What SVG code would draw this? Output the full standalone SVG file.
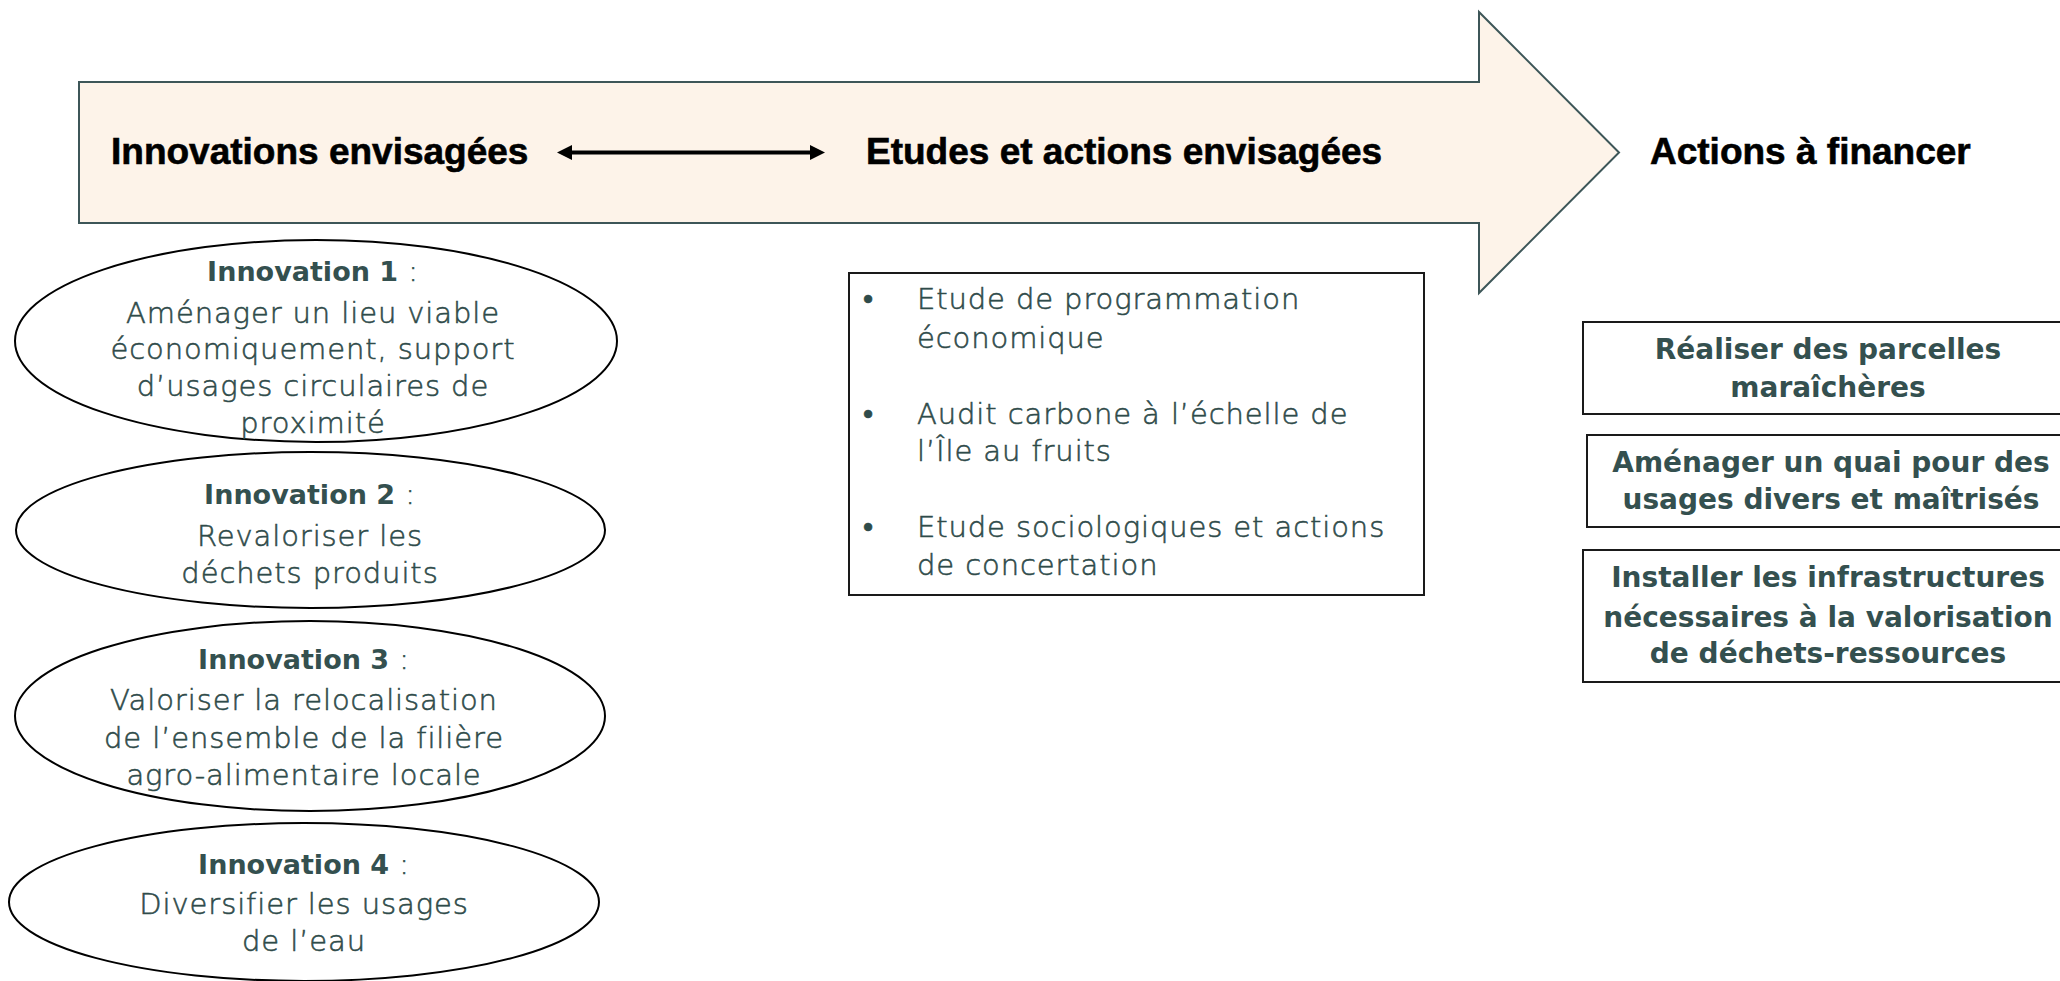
<svg xmlns="http://www.w3.org/2000/svg" width="2060" height="981" viewBox="0 0 2060 981">
<style>
.hdr{font-family:"Liberation Sans",Arial,sans-serif;font-weight:700;font-size:37px;fill:#000;stroke:#000;stroke-width:0.6px}
.ih{font-family:"DejaVu Sans",sans-serif;font-weight:700;font-size:27px;fill:#34504f;stroke:none}
.lt{font-family:"DejaVu Sans",sans-serif;font-weight:300;font-size:29px;letter-spacing:0.9px;fill:#2f4b4a;stroke:#2f4b4a;stroke-width:0.55px}
.bx{font-family:"DejaVu Sans",sans-serif;font-weight:700;font-size:28px;fill:#34504f}
.ell{fill:#fff;stroke:#000;stroke-width:2}
.box{fill:#fff;stroke:#1a1a1a;stroke-width:2}
</style>
<defs>
<marker id="ah" markerUnits="userSpaceOnUse" viewBox="0 0 15 15" refX="7" refY="7.5" markerWidth="15" markerHeight="15" orient="auto-start-reverse">
<path d="M0,0 L15,7.5 L0,15 Z" fill="#000"/>
</marker>
</defs>
<rect width="2060" height="981" fill="#fff"/>
<g id="big-arrow">
<path d="M79,82 H1479 V12 L1619,152.5 L1479,293 V223 H79 Z" fill="#fdf3e9" stroke="#3d5658" stroke-width="2"/>
<text class="hdr" x="111" y="164">Innovations envisagées</text>
<text class="hdr" x="866" y="164">Etudes et actions envisagées</text>
</g>
<g id="actions-title">
<text class="hdr" x="1650" y="164">Actions à financer</text>
</g>
<g id="connectors">
<line x1="565" y1="152.5" x2="817" y2="152.5" stroke="#000" stroke-width="4" marker-start="url(#ah)" marker-end="url(#ah)"/>
</g>
<g id="innovation-1">
<ellipse class="ell" cx="316" cy="341" rx="301" ry="101"/>
<text x="313" y="281" text-anchor="middle"><tspan class="ih">Innovation 1</tspan><tspan class="lt"> :</tspan></text>
<text class="lt" text-anchor="middle"><tspan x="313" y="323">Aménager un lieu viable</tspan><tspan x="313" y="359">économiquement, support</tspan><tspan x="313" y="396">d’usages circulaires de</tspan><tspan x="313" y="433">proximité</tspan></text>
</g>
<g id="innovation-2">
<ellipse class="ell" cx="310.5" cy="530" rx="294.5" ry="78"/>
<text x="310" y="504" text-anchor="middle"><tspan class="ih">Innovation 2</tspan><tspan class="lt"> :</tspan></text>
<text class="lt" text-anchor="middle"><tspan x="310" y="546">Revaloriser les</tspan><tspan x="310" y="583">déchets produits</tspan></text>
</g>
<g id="innovation-3">
<ellipse class="ell" cx="310" cy="716" rx="295" ry="95"/>
<text x="304" y="669" text-anchor="middle"><tspan class="ih">Innovation 3</tspan><tspan class="lt"> :</tspan></text>
<text class="lt" text-anchor="middle"><tspan x="304" y="710">Valoriser la relocalisation</tspan><tspan x="304" y="748">de l’ensemble de la filière</tspan><tspan x="304" y="785">agro-alimentaire locale</tspan></text>
</g>
<g id="innovation-4">
<ellipse class="ell" cx="304" cy="902" rx="295" ry="79"/>
<text x="304" y="874" text-anchor="middle"><tspan class="ih">Innovation 4</tspan><tspan class="lt"> :</tspan></text>
<text class="lt" text-anchor="middle"><tspan x="304" y="914">Diversifier les usages</tspan><tspan x="304" y="951">de l’eau</tspan></text>
</g>
<g id="etudes">
<rect class="box" x="849" y="273" width="575" height="322"/>
<text class="lt"><tspan x="863" y="309">•</tspan><tspan x="863" y="424">•</tspan><tspan x="863" y="537">•</tspan></text>
<text class="lt"><tspan x="917" y="309">Etude de programmation</tspan><tspan x="917" y="348">économique</tspan><tspan x="917" y="424">Audit carbone à l’échelle de</tspan><tspan x="917" y="461">l’Île au fruits</tspan><tspan x="917" y="537">Etude sociologiques et actions</tspan><tspan x="917" y="575">de concertation</tspan></text>
</g>
<g id="action-1">
<rect class="box" x="1583" y="322" width="490" height="92"/>
<text class="bx" text-anchor="middle"><tspan x="1828" y="359">Réaliser des parcelles</tspan><tspan x="1828" y="397">maraîchères</tspan></text>
</g>
<g id="action-2">
<rect class="box" x="1587" y="435" width="486" height="92"/>
<text class="bx" text-anchor="middle"><tspan x="1831" y="472">Aménager un quai pour des</tspan><tspan x="1831" y="509">usages divers et maîtrisés</tspan></text>
</g>
<g id="action-3">
<rect class="box" x="1583" y="550" width="490" height="132"/>
<text class="bx" text-anchor="middle"><tspan x="1828" y="587">Installer les infrastructures</tspan><tspan x="1828" y="627">nécessaires à la valorisation</tspan><tspan x="1828" y="663">de déchets-ressources</tspan></text>
</g>
</svg>
